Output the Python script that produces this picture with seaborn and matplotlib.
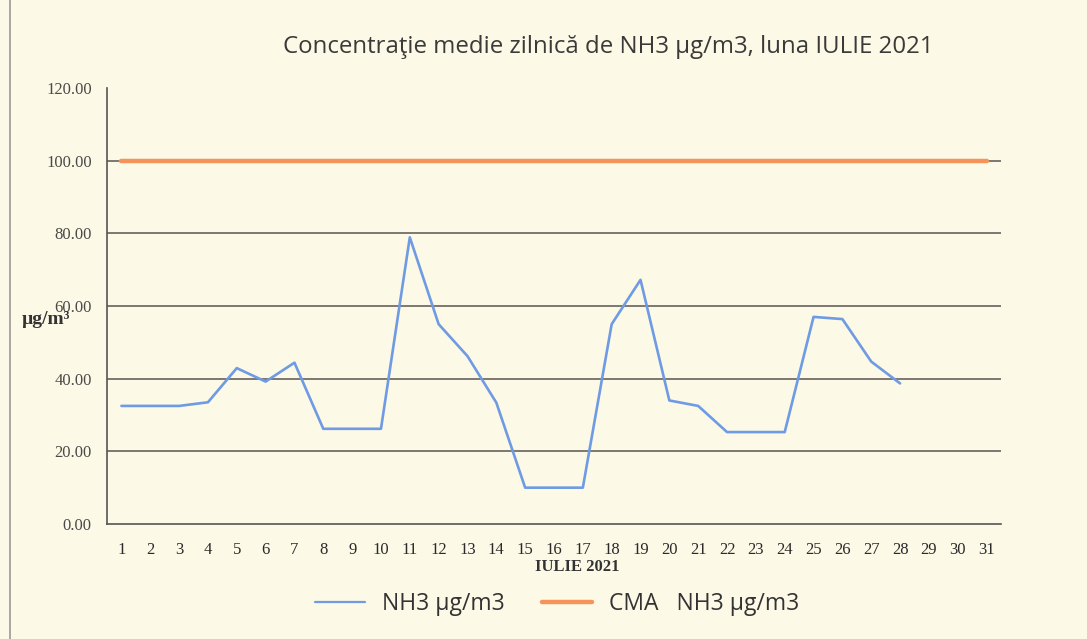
import pandas as pd
import seaborn as sns
import matplotlib.pyplot as plt
from matplotlib.lines import Line2D

# Daily means (days 1..28 have data)
days = list(range(1, 32))
nh3 = [32.5, 32.5, 32.5, 33.5, 42.9, 39.2, 44.4, 26.2, 26.2, 26.2,
       78.9, 55.0, 46.2, 33.4, 10.0, 10.0, 10.0, 55.0, 67.2, 34.0,
       32.5, 25.3, 25.3, 25.3, 57.0, 56.4, 44.7, 38.7]
cma = [100.0] * 31
y_ticks = [0, 20, 40, 60, 80, 100, 120]

title = "Concentraţie medie zilnică de NH3 µg/m3, luna IULIE 2021"
lbl_nh3 = "NH3 µg/m3"
lbl_cma = "CMA   NH3 µg/m3"

bg = "#fcf9e6"
blue = "#6e9be3"
orange = "#f5935a"
grid_c = "#5a5452"

sns.set_theme(style="white")
plt.rcParams["font.family"] = ["Liberation Serif", "DejaVu Serif"]

fig = plt.figure(figsize=(10.87, 6.39), dpi=100, facecolor=bg)
ax = fig.add_axes([107 / 1087, 1 - 524 / 639, (1001 - 107) / 1087, (524 - 88) / 639])
ax.set_facecolor(bg)

df_nh3 = pd.DataFrame({"day": days[:len(nh3)], "val": nh3})
df_cma = pd.DataFrame({"day": days, "val": cma})
sns.lineplot(data=df_cma, x="day", y="val", ax=ax, color=orange, lw=3.2, zorder=4)
sns.lineplot(data=df_nh3, x="day", y="val", ax=ax, color=blue, lw=1.9, zorder=5)

ax.set_xlim(0.5, 31.5)
ax.set_ylim(0, 120)
ax.set_yticks(y_ticks)
ax.set_yticklabels([f"{v:.2f}" for v in y_ticks], fontsize=12, color="#4a4a4a")
ax.set_xticks(days)
ax.set_xticklabels([str(d) for d in days], fontsize=12, color="#2a2a2a")
ax.set_xticks([d + 0.5 for d in range(0, 31)], minor=True)
ax.tick_params(axis="x", which="major", length=0, pad=13)
ax.tick_params(axis="x", which="minor", length=5, width=1, color="#555555", direction="out")
ax.tick_params(axis="y", length=7, width=1, color="#555555", direction="out", pad=4)

for v in y_ticks[1:-1]:
    ax.axhline(v, color=grid_c, lw=1.1, zorder=1)

for s in ["top", "right"]:
    ax.spines[s].set_visible(False)
for s in ["left", "bottom"]:
    ax.spines[s].set_color("#555555")
    ax.spines[s].set_linewidth(1.2)

ax.set_xlabel("")
ax.set_ylabel("")
fig.text(577 / 1087, 1 - 567 / 639, "IULIE 2021", fontsize=12, fontweight="bold",
         color="#333333", ha="center", va="center")
fig.text(22 / 1087, 1 - 319 / 639, "µg/m³", fontsize=14, fontweight="bold",
         color="#333333", ha="left", va="center")

fig.text(608 / 1087, 1 - 47 / 639, title, fontsize=17.3, color="#3a3a3a",
         ha="center", va="center", family=["Open Sans", "DejaVu Sans"])

handles = [Line2D([], [], color=blue, lw=1.6), Line2D([], [], color=orange, lw=3.2)]
fig.legend(handles, [lbl_nh3, lbl_cma], loc="center", bbox_to_anchor=(557 / 1087, 1 - 604 / 639),
           ncol=2, frameon=False, handlelength=2.2, columnspacing=1.6, handletextpad=0.75,
           prop={"family": "Open Sans", "size": 16.5})
for t in fig.legends[0].get_texts():
    t.set_color("#333333")

fig.add_artist(Line2D([10 / 1087, 10 / 1087], [0, 1], color="#9a9a9a", lw=1.2))

fig.savefig("out.png", dpi=100, facecolor=bg)
